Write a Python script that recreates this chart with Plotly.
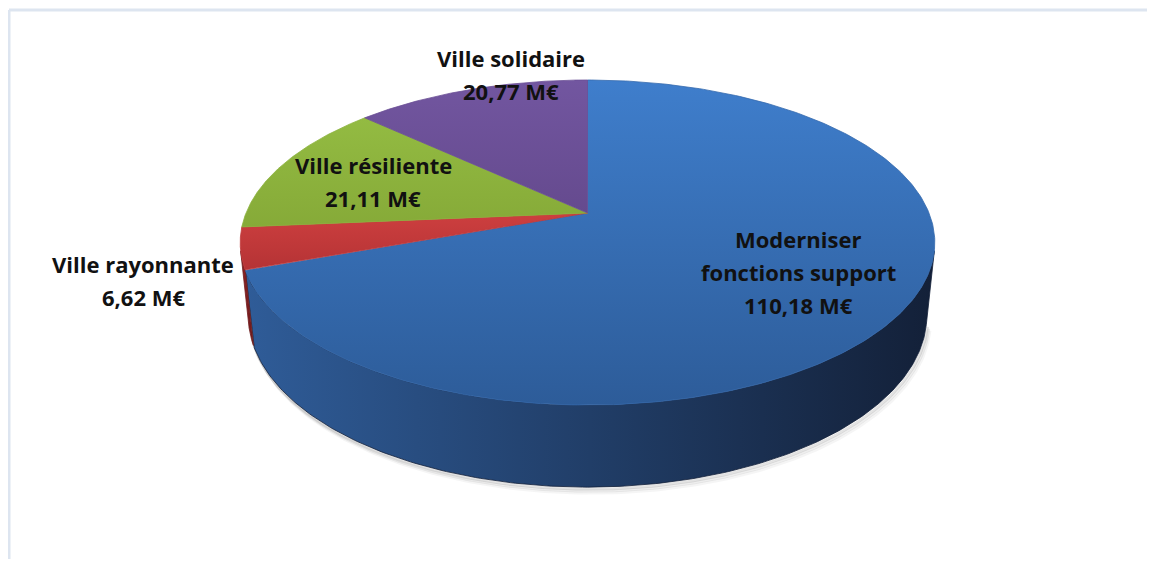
import numpy as np
import plotly.graph_objects as go

# ---- data ----
categories = ["Moderniser<br>fonctions support", "Ville rayonnante", "Ville résiliente", "Ville solidaire"]
values = [110.18, 6.62, 21.11, 20.77]
unit = "M€"

# ---- style ----
top_colors = [("#3f7ecc", "#2d5c99"), ("#cd3f3f", "#b53335"), ("#93bb42", "#86aa38"), ("#7256a0", "#654a8e")]
edge_colors = ["#3569ad", "#c03a3b", "#8cb33d", "#6b4f96"]
side_colors = [("#2f5c98", "#132038"), ("#8e2426", "#6e1a1c"), ("#6d8a2b", "#55701f"), ("#4e3a70", "#3f2e5b")]
label_pos = [(798, 272), (143, 280), (373, 181), (511, 74)]
line_gap = 33

# page body has an 8px margin: shift the coordinate frame so data units = window pixels
PAD = 8
W, H = 1155 - 2 * PAD, 567 - 2 * PAD

# ---- projection of a tilted disc (perspective) ----
CX, CY = 587.5, 213.0
F, D = 1668.0, 4.884
PHI = np.radians(27.4)
S, C = np.sin(PHI), np.cos(PHI)
T = 0.242


def proj(theta_deg, h=0.0):
    th = np.radians(theta_deg)
    u, v = np.sin(th), np.cos(th)
    depth = D + v * C - h * S
    x = CX + F * u / depth
    y = CY - F * (v * S + h * C) / depth
    return x, y


total = sum(values)
angles = np.concatenate([[0], np.cumsum(values) / total * 360.0])

# visible part of the outer wall
vis_lo = np.degrees(np.arccos(-1.0 / (D * C)))
vis_hi = 360 - vis_lo

fig = go.Figure()

# soft shadow under the pie
for off, op in [(6, 0.06), (4, 0.10), (2, 0.17)]:
    th = np.linspace(vis_lo, vis_hi, 200)
    bx, by = proj(th, -T)
    fig.add_trace(go.Scatter(x=bx + off * 0.6, y=by + off, mode="lines",
                             line=dict(color=f"rgba(90,90,90,{op})", width=3),
                             hoverinfo="skip", showlegend=False))

# side walls
for i in range(len(values)):
    a0, a1 = max(angles[i], vis_lo), min(angles[i + 1], vis_hi)
    if a1 <= a0:
        continue
    th = np.linspace(a0, a1, 200)
    tx, ty = proj(th, 0.0)
    bx, by = proj(th[::-1], -T)
    fig.add_trace(go.Scatter(
        x=np.concatenate([tx, bx, tx[:1]]), y=np.concatenate([ty, by, ty[:1]]),
        mode="lines", fill="toself",
        line=dict(width=0.8, color=side_colors[i][1]),
        fillgradient=dict(type="horizontal",
                          colorscale=[[0, side_colors[i][0]], [1, side_colors[i][1]]]),
        hoverinfo="skip", showlegend=False))

# top faces
for i in range(len(values)):
    th = np.linspace(angles[i], angles[i + 1], 300)
    ax, ay = proj(th, 0.0)
    x = np.concatenate([[CX], ax, [CX]])
    y = np.concatenate([[CY], ay, [CY]])
    fig.add_trace(go.Scatter(
        x=x, y=y, mode="lines", fill="toself",
        line=dict(width=0.8, color=edge_colors[i]),
        fillgradient=dict(type="vertical",
                          colorscale=[[0, top_colors[i][1]], [1, top_colors[i][0]]]),
        hoverinfo="skip", showlegend=False))

# labels
for i, name in enumerate(categories):
    lines = name.split("<br>") + [f"{values[i]:.2f}".replace(".", ",") + " " + unit]
    lx, ly = label_pos[i]
    n = len(lines)
    for j, txt in enumerate(lines):
        fig.add_annotation(x=lx, y=ly + (j - (n - 1) / 2) * line_gap, text=txt,
                           showarrow=False, xanchor="center", yanchor="middle",
                           font=dict(family="Open Sans", size=22, color="#111111", weight="bold"))

# frame
fig.add_shape(type="line", x0=9, x1=1160, y0=10, y1=10, line=dict(color="#dde5f0", width=3), layer="below")
fig.add_shape(type="line", x0=9, x1=9, y0=10, y1=570, line=dict(color="#dde5f0", width=3), layer="below")

fig.update_layout(
    width=W, height=H,
    margin=dict(l=0, r=0, t=0, b=0),
    paper_bgcolor="white", plot_bgcolor="white",
    xaxis=dict(range=[PAD, PAD + W], visible=False, fixedrange=True),
    yaxis=dict(range=[PAD + H, PAD], visible=False, fixedrange=True),
    showlegend=False,
)

fig.write_html("out.html")
